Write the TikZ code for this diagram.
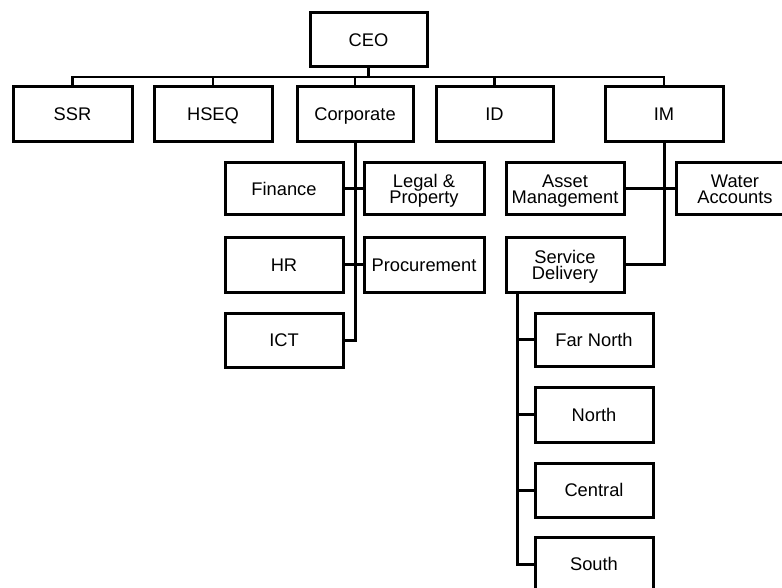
\documentclass[tikz,border=0pt]{standalone}
\usepackage{fontspec}
\setmainfont{Liberation Sans}
\begin{document}
\begin{tikzpicture}[x=1pt,y=-1pt,
  unit/.style={draw, line width=3pt, rectangle, minimum width=118pt, minimum height=54pt,
    inner sep=0pt, align=center, text height=13pt, text depth=0pt,
    font=\fontsize{18.3}{16.5}\selectfont},
  twoline/.style={text height=29.5pt},
  link/.style={line width=3pt},
  buslink/.style={line width=2.4pt}]
\useasboundingbox (0,0) rectangle (782,588);
\clip (0,0) rectangle (782,588);
% top
\node[unit, minimum width=117pt] (CEO) at (368.5,40) {CEO};
\node[unit, minimum width=119pt, minimum height=55pt] (SSR) at (72.5,114.5) {SSR};
\node[unit, minimum height=55pt] (HSEQ) at (213,114.5) {HSEQ};
\node[unit, minimum width=116pt, minimum height=55pt] (Corp) at (355,114.5) {Corporate};
\node[unit, minimum width=117pt, minimum height=55pt] (ID) at (494.5,114.5) {ID};
\node[unit, minimum height=55pt] (IM) at (664,114.5) {IM};
% corporate children
\node[unit, minimum height=52pt] (Fin) at (284,189) {Finance};
\node[unit, twoline, minimum width=120pt, minimum height=52pt] (Legal) at (424,189) {Legal \&\\Property};
\node[unit] (HR) at (284,265) {HR};
\node[unit, minimum width=120pt] (Proc) at (424,265) {Procurement};
\node[unit] (ICT) at (284,340) {ICT};
% IM children
\node[unit, twoline, minimum height=52pt] (Asset) at (565,189) {Asset\\Management};
\node[unit, twoline, minimum height=52pt] (Water) at (735,189) {Water\\Accounts};
\node[unit, twoline] (Serv) at (565,265) {Service\\Delivery};
% service delivery children
\node[unit, minimum height=53pt] (FarN) at (594,339.5) {Far North};
\node[unit, minimum height=55pt] (North) at (594,414.5) {North};
\node[unit] (Central) at (594,490) {Central};
\node[unit] (South) at (594,564) {South};
% connectors: top bus
\coordinate (bus) at (368.5,77);
\draw[link] (CEO.south) -- (bus);
\foreach \n in {SSR,HSEQ,Corp,ID,IM}
  \draw[buslink] (\n.north) |- (bus);
% corporate
\draw[link] (Corp.south) |- (ICT.east);
\draw[link] (Fin.east) -- (Legal.west);
\draw[link] (HR.east) -- (Proc.west);
% IM
\draw[link] (IM.south) |- (Serv.east);
\draw[link] (Asset.east) -- (Water.west);
% service delivery
\coordinate (sdv) at ([xshift=13pt]Serv.south west);
\draw[link] (sdv) |- (South.west);
\foreach \n in {FarN,North,Central}
  \draw[link] (\n.west) -- (\n.west -| sdv);
\end{tikzpicture}
\end{document}
